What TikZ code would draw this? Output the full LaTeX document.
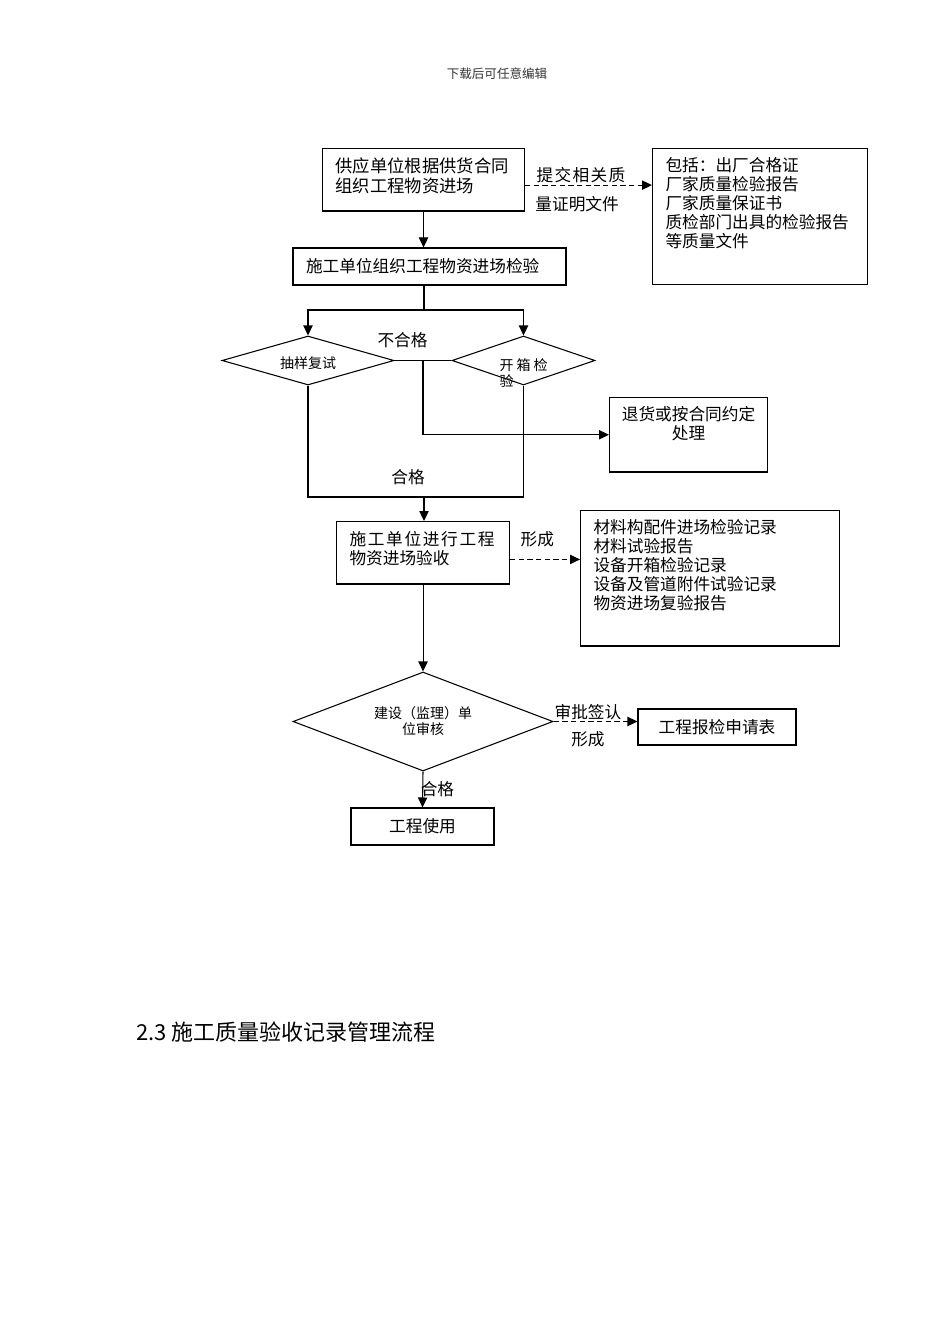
\documentclass[tikz,border=0pt]{standalone}
\usepackage{fontspec}
\setmainfont{Noto Sans CJK SC}
\usetikzlibrary{arrows.meta,positioning,shapes.geometric}

\begin{document}
\begin{tikzpicture}[
    x=0.75pt, y=-0.75pt,
    every node/.style={font=\fontsize{12.5}{14.25}\selectfont},
    box/.style={draw=black, line width=0.8pt, inner xsep=9.75pt, inner ysep=0pt, align=left},
    docbox/.style={box, inner ysep=6.75pt, anchor=north west},
    decision/.style={diamond, draw=black, line width=0.8pt, inner sep=0pt, aspect=2.9, align=center, font=\fontsize{10.5}{12}\selectfont},
    flow/.style={-{Triangle[length=7.5pt,width=7pt]}, draw=black, line width=0.8pt},
    wire/.style={draw=black, line width=0.8pt},
    hand/.style={flow, dash pattern=on 4pt off 2.5pt},
    lbl/.style={font=\fontsize{12.5}{14}\selectfont, inner sep=1pt}
    ]
    \useasboundingbox (0,0) rectangle (950,1344);

    \node[text=black!80] (title) at (497,74) {\fontsize{9.4}{11}\selectfont 下载后可任意编辑};

    % boxes
    \node[docbox, text width=132pt, text depth=22.35pt, font=\fontsize{13}{15}\selectfont] (supply) at (322,148) {供应单位根据供货合同\\组织工程物资进场};
    \node[docbox, text width=141.75pt, text depth=78.25pt] (docs) at (652,148) {包括：出厂合格证\\厂家质量检验报告\\厂家质量保证书\\质检部门出具的检验报告\\等质量文件};
    \node[box, text width=185.25pt, minimum height=27.75pt] (inspect) at (429.5,266.5) {施工单位组织工程物资进场检验};
    \coordinate (split) at (424,310);

    \node[decision, minimum width=129pt, minimum height=36.75pt] (sample) at (308,360.5) {\raisebox{-6pt}[4pt][4pt]{抽样复试}};
    \node[decision, minimum width=107.25pt, minimum height=36.75pt] (unbox) at (523.5,360.5) {\raisebox{-12pt}[5pt][5pt]{\parbox{36pt}{\raggedright 开 箱 检\\验}}};
    \coordinate (fail) at (423,360.5);
    \node[docbox, inner xsep=6pt, text width=106.5pt, align=center, text depth=31.75pt] (reject) at (609,397) {退货或按合同约定\\处理};
    \coordinate (pass) at (424,497);

    \node[docbox, inner ysep=7.5pt, text width=110.25pt, text depth=21.25pt] (accept) at (336,521) {{\addfontfeature{LetterSpace=10}施工单位进行工程}\\物资进场验收};
    \node[docbox, text width=174.75pt, text depth=77.5pt] (records) at (580,510) {材料构配件进场检验记录\\材料试验报告\\设备开箱检验记录\\设备及管道附件试验记录\\物资进场复验报告};

    \node[decision, minimum width=195pt, minimum height=74.25pt] (review) at (423,721.5) {建设（监理）单\\位审核};
    \node[box, align=center, text width=99pt, minimum height=27pt] (report) at (717,727) {工程报检申请表};
    \node[box, align=center, text width=87.75pt, minimum height=27.75pt] (use) at (422.5,826.5) {工程使用};

    \node[anchor=west, inner sep=0pt, font=\fontsize{16.5}{18}\selectfont] (heading) at (136,1032) {2.3 施工质量验收记录管理流程};

    % connectors
    \draw[flow] (supply.south) -- (supply.south |- inspect.north);
    \draw[hand] ([yshift=-4pt]supply.east) -- ([yshift=-4pt]supply.east -| docs.west)
        node[lbl, pos=0.44, above=0pt] {\addfontfeature{LetterSpace=8}提交相关质}
        node[lbl, pos=0.41, below=7pt] {量证明文件};
    \draw[wire] (split |- inspect.south) -- (split);
    \draw[flow] (split) -| (sample.north);
    \draw[flow] (split) -| (unbox.north);
    \draw[wire] (sample.east) -- (unbox.west) node[lbl, pos=0.14, above=8pt] {不合格};
    \draw[flow] (fail) |- (reject.west);
    \draw[wire] (sample.south) |- (pass) node[lbl, above=8pt, xshift=-12pt] {合格} -| (unbox.south);
    \draw[flow] (pass) -- (pass |- accept.north);
    \draw[hand] ([yshift=-5pt]accept.east) -- ([yshift=-5pt]accept.east -| records.west)
        node[lbl, pos=0.39, above=8pt] {形成};
    \draw[flow] (accept.south) -- (accept.south |- review.north);
    \draw[hand] (review.east) -- (review.east -| report.west)
        node[lbl, pos=0.41, above=0pt] {审批签认}
        node[lbl, pos=0.41, below=6pt] {形成};
    \draw[flow] (review.south) -- (use.north) node[lbl, midway, xshift=11pt] {合格};
\end{tikzpicture}
\end{document}
